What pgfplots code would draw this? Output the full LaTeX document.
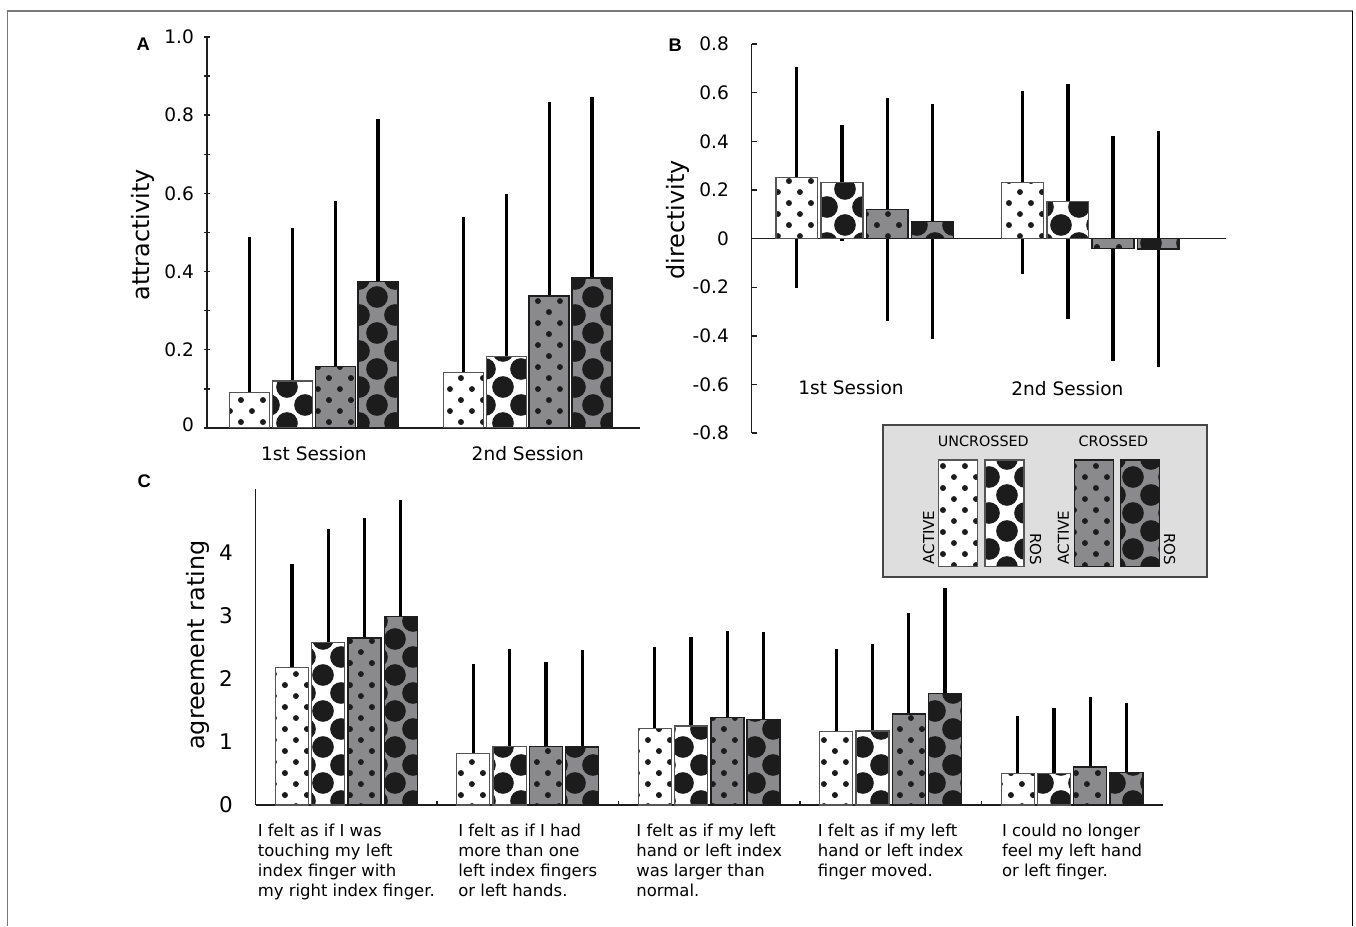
\documentclass[border=0pt]{standalone}
\usepackage{pgfplots}
\pgfplotsset{compat=1.18}
\usepackage{pgfplotstable}
\usetikzlibrary{patterns.meta}
\usepackage{fontspec}
\setmainfont{DejaVu Sans}
\newfontfamily\letterfont{Liberation Sans}

\definecolor{dotc}{RGB}{28,28,28}
\definecolor{barg}{RGB}{138,138,140}
\definecolor{wline}{RGB}{85,85,85}
\definecolor{gline}{RGB}{30,30,30}
\definecolor{legbg}{RGB}{222,222,222}
\definecolor{legln}{RGB}{70,70,70}
\definecolor{axc}{RGB}{30,30,30}
\definecolor{framec}{RGB}{120,120,120}

\tikzdeclarepattern{
  name=sdots, type=uncolored,
  bottom left={(0pt,0pt)}, top right={(15.6pt,15.6pt)},
  tile size={(15.6pt,15.6pt)},
  code={
    \fill (0pt,0pt) circle [radius=2.1pt];
    \fill (15.6pt,0pt) circle [radius=2.1pt];
    \fill (0pt,15.6pt) circle [radius=2.1pt];
    \fill (15.6pt,15.6pt) circle [radius=2.1pt];
    \fill (7.8pt,7.8pt) circle [radius=2.1pt];
  }
}
\tikzdeclarepattern{
  name=bdots, type=uncolored,
  bottom left={(0pt,0pt)}, top right={(25.6pt,25.6pt)},
  tile size={(25.6pt,25.6pt)},
  code={
    \fill (0pt,0pt) circle [radius=7.7pt];
    \fill (25.6pt,0pt) circle [radius=7.7pt];
    \fill (0pt,25.6pt) circle [radius=7.7pt];
    \fill (25.6pt,25.6pt) circle [radius=7.7pt];
    \fill (12.8pt,12.8pt) circle [radius=7.7pt];
  }
}

\pgfplotsset{
  ua/.style={ybar, bar width=#1, preaction={fill=white}, pattern=sdots, pattern color=dotc, draw=wline, line width=0.9pt},
  ur/.style={ybar, bar width=#1, preaction={fill=white}, pattern=bdots, pattern color=dotc, draw=wline, line width=0.9pt},
  ca/.style={ybar, bar width=#1, preaction={fill=barg}, pattern=sdots, pattern color=dotc, draw=gline, line width=1pt},
  cr/.style={ybar, bar width=#1, preaction={fill=barg}, pattern=bdots, pattern color=dotc, draw=gline, line width=1pt},
  errs/.style={draw=none, no markers, forget plot, error bars/.cd, y dir=both, y explicit, error mark=none, error bar style={draw=black, line width=2.3pt, solid}},
  panel/.style={scale only axis, anchor=south west,
    axis line style={draw=axc, line width=1.1pt},
    tick style={draw=axc, line width=1pt},
    tick label style={font=\fontsize{13.2}{15}\selectfont},
    yticklabel style={anchor=east, inner sep=0pt, xshift=-7pt}},
}

% ---------- data: x position, mean, error ----------
\pgfplotstableread{
x y e
0.7 0.091 0.397
1.7 0.142 0.398
}\AUA
\pgfplotstableread{
x y e
0.9 0.120 0.391
1.9 0.183 0.415
}\AUR
\pgfplotstableread{
x y e
1.1 0.157 0.424
2.1 0.338 0.495
}\ACA
\pgfplotstableread{
x y e
1.3 0.375 0.416
2.3 0.384 0.462
}\ACR

\pgfplotstableread{
x y e
0.7 0.250 0.455
1.7 0.230 0.375
}\BUA
\pgfplotstableread{
x y e
0.9 0.230 0.238
1.9 0.152 0.484
}\BUR
\pgfplotstableread{
x y e
1.1 0.119 0.458
2.1 -0.041 0.463
}\BCA
\pgfplotstableread{
x y e
1.3 0.070 0.482
2.3 -0.042 0.484
}\BCR

\pgfplotstableread{
x y e
0.7 2.18 1.63
1.7 0.81 1.42
2.7 1.21 1.29
3.7 1.16 1.31
4.7 0.50 0.91
}\CUA
\pgfplotstableread{
x y e
0.9 2.57 1.79
1.9 0.93 1.54
2.9 1.25 1.41
3.9 1.17 1.37
4.9 0.50 1.04
}\CUR
\pgfplotstableread{
x y e
1.1 2.64 1.90
2.1 0.93 1.34
3.1 1.38 1.38
4.1 1.44 1.60
5.1 0.60 1.11
}\CCA
\pgfplotstableread{
x y e
1.3 2.98 1.84
2.3 0.92 1.54
3.3 1.35 1.39
4.3 1.76 1.68
5.3 0.51 1.11
}\CCR

\begin{document}
\begin{tikzpicture}[x=0.25mm,y=0.25mm]
\useasboundingbox (0,0) rectangle (1356,926);
\draw[framec, line width=1.1pt] (7.5,0) -- (7.5,915) -- (1352.5,915);
\draw[black, line width=1.3pt] (1352.5,915) -- (1352.5,0);

% ---------------- Panel A ----------------
\begin{axis}[panel, at={(51.75mm,124.5mm)}, width=108.25mm, height=97.75mm,
  xmin=0.5, xmax=2.525, ymin=0, ymax=1,
  axis x line*=bottom, axis y line*=left,
  xtick={1,2}, xticklabels={1st Session,2nd Session}, xtick style={draw=none},
  xticklabel style={anchor=base, yshift=-21.2pt},
  ytick={0,0.2,0.4,0.6,0.8,1}, yticklabels={\raisebox{5.5pt}{0},0.2,0.4,0.6,0.8,1.0},
  minor ytick={0.1,0.3,0.5,0.7,0.9},
  tick align=center, major tick length=4.3pt, minor tick length=4.3pt,
  ylabel={attractivity},
  every axis y label/.style={at={(axis description cs:-0.147,0.494)}, rotate=90, anchor=center, font=\fontsize{17}{20}\selectfont}]
\addplot[errs] table[x=x,y=y,y error=e] {\AUA};
\addplot[errs] table[x=x,y=y,y error=e] {\AUR};
\addplot[errs] table[x=x,y=y,y error=e] {\ACA};
\addplot[errs] table[x=x,y=y,y error=e] {\ACR};
\addplot[ua=0.187] table[x=x,y=y] {\AUA};
\addplot[ur=0.187] table[x=x,y=y] {\AUR};
\addplot[ca=0.187] table[x=x,y=y] {\ACA};
\addplot[cr=0.187] table[x=x,y=y] {\ACR};
\end{axis}

% ---------------- Panel B ----------------
\begin{axis}[panel, at={(187.9mm,123.2mm)}, width=118.6mm, height=97.3mm,
  xmin=0.5, xmax=2.6, ymin=-0.8, ymax=0.8,
  axis x line*=middle, axis y line*=left,
  xtick=\empty,
  ytick={-0.8,-0.6,-0.4,-0.2,0,0.2,0.4,0.6,0.8},
  yticklabels={-0.8,-0.6,-0.4,-0.2,0,0.2,0.4,0.6,0.8},
  yticklabel style={xshift=-9pt},
  tick align=inside, major tick length=3.5pt,
  ylabel={directivity},
  every axis y label/.style={at={(axis description cs:-0.155,0.548)}, rotate=90, anchor=center, font=\fontsize{17}{20}\selectfont}]
\addplot[errs] table[x=x,y=y,y error=e] {\BUA};
\addplot[errs] table[x=x,y=y,y error=e] {\BUR};
\addplot[errs] table[x=x,y=y,y error=e] {\BCA};
\addplot[errs] table[x=x,y=y,y error=e] {\BCR};
\addplot[ua=0.185] table[x=x,y=y] {\BUA};
\addplot[ur=0.185] table[x=x,y=y] {\BUR};
\addplot[ca=0.185] table[x=x,y=y] {\BCA};
\addplot[cr=0.185] table[x=x,y=y] {\BCR};
\node[font=\fontsize{13.2}{15}\selectfont] at (axis cs:0.94,-0.611) {1st Session};
\node[font=\fontsize{13.2}{15}\selectfont] at (axis cs:1.898,-0.615) {2nd Session};
\end{axis}

% ---------------- Panel C ----------------
\begin{axis}[panel, at={(63.9mm,30.25mm)}, width=226.8mm, height=79mm,
  xmin=0.5, xmax=5.5, ymin=0, ymax=5,
  axis x line*=bottom, axis y line*=left,
  xtick={1,2,3,4,5},
  xticklabels={{I felt as if I was\\touching my left\\index finger with\\my right index finger.},
               {I felt as if I had\\more than one\\left index fingers\\or left hands.},
               {I felt as if my left\\hand or left index\\was larger than\\normal.},
               {I felt as if my left\\hand or left index\\finger moved.},
               {I could no longer\\feel my left hand\\or left finger.}},
  xticklabel style={align=left, anchor=north, yshift=-10pt, font=\fontsize{11.7}{14.2}\selectfont},
  minor xtick={1.5,2.5,3.5,4.5},
  ytick={0,1,2,3,4}, yticklabels={0,1,2,3,4},
  yticklabel style={xshift=-9pt, font=\fontsize{15.3}{18}\selectfont},
  tick align=inside, major tick length=0pt, minor tick length=3pt,
  ylabel={agreement rating},
  every axis y label/.style={at={(axis description cs:-0.0637,0.506)}, rotate=90, anchor=center, font=\fontsize{17}{20}\selectfont}]
\addplot[errs] table[x=x,y=y,y error=e] {\CUA};
\addplot[errs] table[x=x,y=y,y error=e] {\CUR};
\addplot[errs] table[x=x,y=y,y error=e] {\CCA};
\addplot[errs] table[x=x,y=y,y error=e] {\CCR};
\addplot[ua=0.182] table[x=x,y=y] {\CUA};
\addplot[ur=0.182] table[x=x,y=y] {\CUR};
\addplot[ca=0.182] table[x=x,y=y] {\CCA};
\addplot[cr=0.182] table[x=x,y=y] {\CCR};
\end{axis}

% ---------------- Legend ----------------
\draw[legln, fill=legbg, line width=1.3pt] (882.7,349.3) rectangle (1207.3,501);
\node[font=\fontsize{10.2}{12}\selectfont] at (983.3,484.3) {UNCROSSED};
\node[font=\fontsize{10.2}{12}\selectfont] at (1113.3,484.3) {CROSSED};
\node[font=\fontsize{10.7}{12}\selectfont, rotate=90] at (928.7,388.5) {ACTIVE};
\node[font=\fontsize{10.7}{12}\selectfont, rotate=90] at (1063.3,388.5) {ACTIVE};
\node[font=\fontsize{10.7}{12}\selectfont, rotate=-90] at (1035.5,376.8) {ROS};
\node[font=\fontsize{10.7}{12}\selectfont, rotate=-90] at (1169.5,376.8) {ROS};
\begin{axis}[at={(232.5mm,89.8mm)}, anchor=south west, scale only axis,
  width=60mm, height=26.7mm, xmin=930, xmax=1170, ymin=0, ymax=1, hide axis, clip=false]
\addplot[ua=39] coordinates {(957.8,1)};
\addplot[ur=39] coordinates {(1004.5,1)};
\addplot[ca=39] coordinates {(1093.7,1)};
\addplot[cr=39] coordinates {(1139.7,1)};
\end{axis}

% ---------------- Panel letters ----------------
\node[font=\letterfont\bfseries\fontsize{13}{15}\selectfont] at (143.3,882) {A};
\node[font=\letterfont\bfseries\fontsize{13}{15}\selectfont] at (675.2,881) {B};
\node[font=\letterfont\bfseries\fontsize{13}{15}\selectfont] at (144.3,444.3) {C};
\end{tikzpicture}
\end{document}
